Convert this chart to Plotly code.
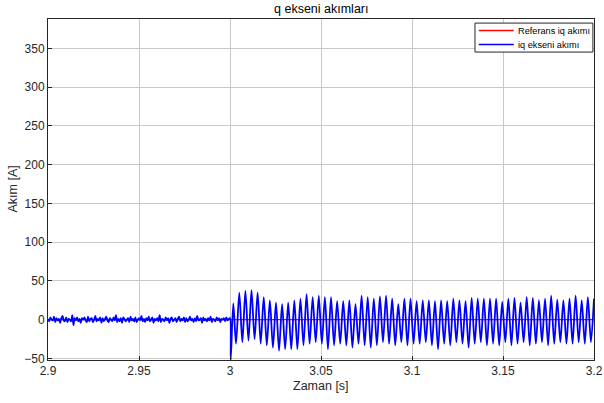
import plotly.graph_objects as go

# --- data -------------------------------------------------------------
# reference current (constant zero command)
ref_t = [2.9, 3.2]
ref_iq = [0, 0]

# measured iq before the step (A), sampled every 0.1/150 s from 2.9 s
iq_pre = [
    1, -2, 3, 0, -1, 4, -3, 2, -1, 1,
    -4, 2, 5, -1, -2, 3, -3, 1, 0, -2,
    6, -7, 2, -1, 3, -2, 1, -4, 2, 0,
    3, -1, -3, 4, -2, 1, 2, -3, 0, 5,
    -2, 1, -1, 3, -4, 2, -2, 1, 4, -1,
    -3, 2, 0, -2, 3, -1, 6, -3, 1, -2,
    2, -4, 3, 1, -2, 0, 2, -3, 4, -1,
    1, -2, 3, -3, 0, 2, -1, 5, -2, 1,
    -3, 2, -1, 4, -2, 0, 3, -4, 1, -1,
    2, -2, 6, -3, 1, 0, -2, 3, -1, 2,
    -4, 1, 3, -2, 0, 2, -3, 1, 4, -2,
    1, -1, 3, -3, 2, -2, 0, 4, -1, 1,
    -3, 2, -2, 5, -1, 0, 2, -4, 3, -1,
    1, -2, 2, -1, 4, -3, 1, 0, -2, 3,
    -1, 2, -3, 1, 0, 2, -2, 3, -1, 1,
]

# transient right after the step at 3.0 s
step_t = [3.0, 3.0004, 3.0018, 3.0033]
step_iq = [2, -52, 21, -31]

# oscillation extrema after the transient (A)
osc_start = 3.0051
osc_period = 0.00336
iq_peaks = [
    35, 37, 38, 35, 29, 25, 22, 20, 22, 25, 27, 33, 29,
    31, 29, 29, 24, 24, 25, 20, 31, 29, 27, 30, 31, 27, 20, 27, 27,
    24, 25, 25, 24, 25, 24, 27, 25, 24, 28, 27, 27, 27, 27, 23,
    27, 28, 22, 29, 28, 25, 27, 31, 26, 25, 27, 31, 25, 29, 27,
]
iq_troughs = [
    -29, -27, -25, -31, -33, -36, -40, -38, -38, -38, -33, -31, -29,
    -31, -38, -33, -31, -33, -36, -31, -33, -36, -33, -29, -31, -33, -29, -33,
    -31, -31, -29, -33, -38, -31, -33, -29, -31, -36, -31, -29, -33, -31, -33,
    -29, -33, -31, -29, -33, -31, -29, -33, -31, -29, -31, -31, -29, -31, -29,
]

x_ticks = [2.9, 2.95, 3.0, 3.05, 3.1, 3.15, 3.2]
x_tick_text = ["2.9", "2.95", "3", "3.05", "3.1", "3.15", "3.2"]
y_ticks = [-50, 0, 50, 100, 150, 200, 250, 300, 350]

series_names = ["Referans iq akımı", "iq ekseni akımı"]
series_colors = ["#ff0000", "#0000ff"]

# --- assemble the measured series --------------------------------------
dt_pre = 0.1 / len(iq_pre)
iq_t = [2.9 + i * dt_pre for i in range(len(iq_pre))]
iq_v = list(iq_pre)
iq_t += step_t
iq_v += step_iq
for k, pk in enumerate(iq_peaks):
    tp = osc_start + k * osc_period
    iq_t.append(tp)
    iq_v.append(pk)
    if k < len(iq_troughs):
        iq_t.append(tp + osc_period / 2)
        iq_v.append(iq_troughs[k])

FONT = "Liberation Sans, Arial, Helvetica, sans-serif"
AX = "#262626"
GRID = "#c8c8c8"

fig = go.Figure()
fig.add_trace(go.Scatter(
    x=ref_t, y=ref_iq, mode="lines", name=series_names[0],
    line=dict(color=series_colors[0], width=1.2), showlegend=False,
))
fig.add_trace(go.Scatter(
    x=iq_t, y=iq_v, mode="lines", name=series_names[1],
    line=dict(color=series_colors[1], width=1.8, shape="spline", smoothing=0.8),
    showlegend=False,
))

axis_common = dict(
    showline=True, mirror=True, linecolor=AX, linewidth=1,
    showgrid=True, gridcolor=GRID, gridwidth=1,
    ticks="inside", ticklen=4, tickcolor=AX,
    tickfont=dict(family=FONT, size=12, color=AX),
    zeroline=False, automargin=False,
)

# compact legend box in the upper-right corner of the axes
shapes = [dict(type="rect", xref="paper", yref="paper",
               x0=0.782, x1=0.998, y0=0.903, y1=0.988,
               line=dict(color=AX, width=1), fillcolor="white", layer="above")]
annotations = []
for i, (nm, col) in enumerate(zip(series_names, series_colors)):
    yy = 0.966 - i * 0.041
    shapes.append(dict(type="line", xref="paper", yref="paper",
                       x0=0.789, x1=0.853, y0=yy, y1=yy,
                       line=dict(color=col, width=1.5), layer="above"))
    annotations.append(dict(text=nm, x=0.857, y=yy, xref="paper", yref="paper",
                            xanchor="left", yanchor="middle", showarrow=False,
                            font=dict(family=FONT, size=9.2, color="#000000")))

annotations += [
    dict(text="q ekseni akımları", x=0.5, y=1, xref="paper", yref="paper",
         xanchor="center", yanchor="bottom", yshift=1, showarrow=False,
         font=dict(family=FONT, size=12.5, color="#000000")),
    dict(text="Zaman [s]", x=0.5, y=0, xref="paper", yref="paper",
         xanchor="center", yanchor="middle", yshift=-26, showarrow=False,
         font=dict(family=FONT, size=12.5, color=AX)),
    dict(text="Akım [A]", x=0, y=0.5, xref="paper", yref="paper",
         xanchor="center", yanchor="middle", xshift=-36, textangle=-90,
         showarrow=False, font=dict(family=FONT, size=12.5, color=AX)),
]

fig.update_layout(
    width=604, height=403,
    margin=dict(l=48, r=10, t=19, b=43, autoexpand=False),
    paper_bgcolor="white", plot_bgcolor="white",
    showlegend=False,
    xaxis=dict(range=[2.9, 3.2], tickvals=x_ticks, ticktext=x_tick_text,
               **axis_common),
    yaxis=dict(range=[-52, 388], tickvals=y_ticks, **axis_common),
    shapes=shapes,
    annotations=annotations,
)

fig.write_html("out.html")
